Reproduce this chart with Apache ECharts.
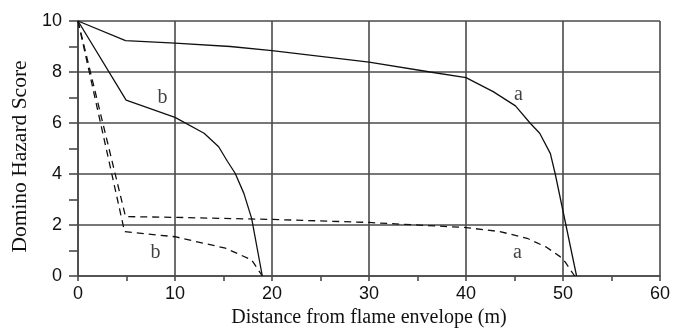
<!DOCTYPE html>
<html>
<head>
<meta charset="utf-8">
<script src="https://cdn.jsdelivr.net/npm/echarts@6/dist/echarts.min.js"></script>
<style>
html, body { margin: 0; padding: 0; background: #fff; }
#main { width: 690px; height: 334px; }
</style>
</head>
<body>
<div id="main"></div>
<script>
// curve data: [distance (m), score]
var solidA = [[0, 10], [4.9, 9.23], [10, 9.13], [15.7, 9.0], [20, 8.84], [30, 8.39], [36.3, 8.0], [40, 7.78],
  [42.8, 7.23], [45.1, 6.67], [46.6, 6.0], [47.6, 5.6], [48.7, 4.8], [49.2, 4.0], [51.4, 0]];
var solidB = [[0, 10], [4.96, 6.9], [10, 6.22], [13.0, 5.6], [14.5, 5.07], [15.4, 4.5], [16.2, 4.03],
  [17.1, 3.24], [17.9, 2.26], [19.0, 0]];
var dashA = [[0, 10], [4.9, 2.33], [10, 2.3], [20, 2.22], [30, 2.1], [40, 1.9], [43.5, 1.74], [46.3, 1.48],
  [48.3, 1.13], [49.7, 0.76], [50.2, 0.56], [51.2, 0]];
var dashB = [[0, 10], [4.8, 1.74], [10, 1.54], [15.2, 1.09], [17.9, 0.63], [19.0, 0]];
// curve letters
var notes = [['b', 8.7, 7.0], ['b', 8.0, 0.9], ['a', 45.4, 7.1], ['a', 45.3, 0.9]];

var ink = '#111';
var gridColor = '#4a4a4a';

var myChart = echarts.init(document.getElementById('main'));
var option = {
  backgroundColor: '#fff',
  animation: false,
  grid: { left: 78, right: 30, top: 21, bottom: 58 },
  xAxis: {
    type: 'value',
    min: 0, max: 60, interval: 10,
    name: 'Distance from flame envelope (m)',
    nameLocation: 'middle',
    nameGap: 31,
    nameTextStyle: { fontFamily: 'Liberation Serif', fontSize: 20, color: ink },
    axisLine: { show: true, lineStyle: { color: gridColor, width: 1.6 } },
    axisTick: { show: true, length: 5, lineStyle: { color: gridColor, width: 1.6 } },
    minorTick: { show: true, splitNumber: 2, length: 5, lineStyle: { color: gridColor, width: 1.6 } },
    axisLabel: { fontFamily: 'Liberation Sans', fontSize: 18, color: ink, margin: 9 },
    splitLine: { show: true, lineStyle: { color: gridColor, width: 1.6 } }
  },
  yAxis: {
    type: 'value',
    min: 0, max: 10, interval: 2,
    name: 'Domino Hazard Score',
    nameLocation: 'middle',
    nameGap: 44,
    nameTextStyle: { fontFamily: 'Liberation Serif', fontSize: 21.5, color: ink, padding: [0, 16, 0, 0] },
    axisLine: { show: true, lineStyle: { color: gridColor, width: 1.6 } },
    axisTick: { show: true, length: 9, lineStyle: { color: gridColor, width: 1.6 } },
    minorTick: { show: true, splitNumber: 2, length: 9, lineStyle: { color: gridColor, width: 1.6 } },
    axisLabel: { fontFamily: 'Liberation Sans', fontSize: 18, color: ink, margin: 16 },
    splitLine: { show: true, lineStyle: { color: gridColor, width: 1.6 } }
  },
  series: [
    { name: 'a', type: 'line', data: solidA, showSymbol: false, lineStyle: { color: ink, width: 1.3 } },
    { name: 'b', type: 'line', data: solidB, showSymbol: false, lineStyle: { color: ink, width: 1.3 } },
    { name: 'a dashed', type: 'line', data: dashA, showSymbol: false,
      lineStyle: { color: ink, width: 1.3, type: [7, 5] } },
    { name: 'b dashed', type: 'line', data: dashB, showSymbol: false,
      lineStyle: { color: ink, width: 1.3, type: [7, 5] } },
    {
      name: 'notes', type: 'scatter', symbolSize: 0,
      data: notes.map(function (n) { return { name: n[0], value: [n[1], n[2]] }; }),
      label: {
        show: true, position: 'inside', formatter: '{b}',
        fontFamily: 'Liberation Serif', fontSize: 20, color: ink
      }
    }
  ]
};
myChart.setOption(option);
</script>
</body>
</html>
